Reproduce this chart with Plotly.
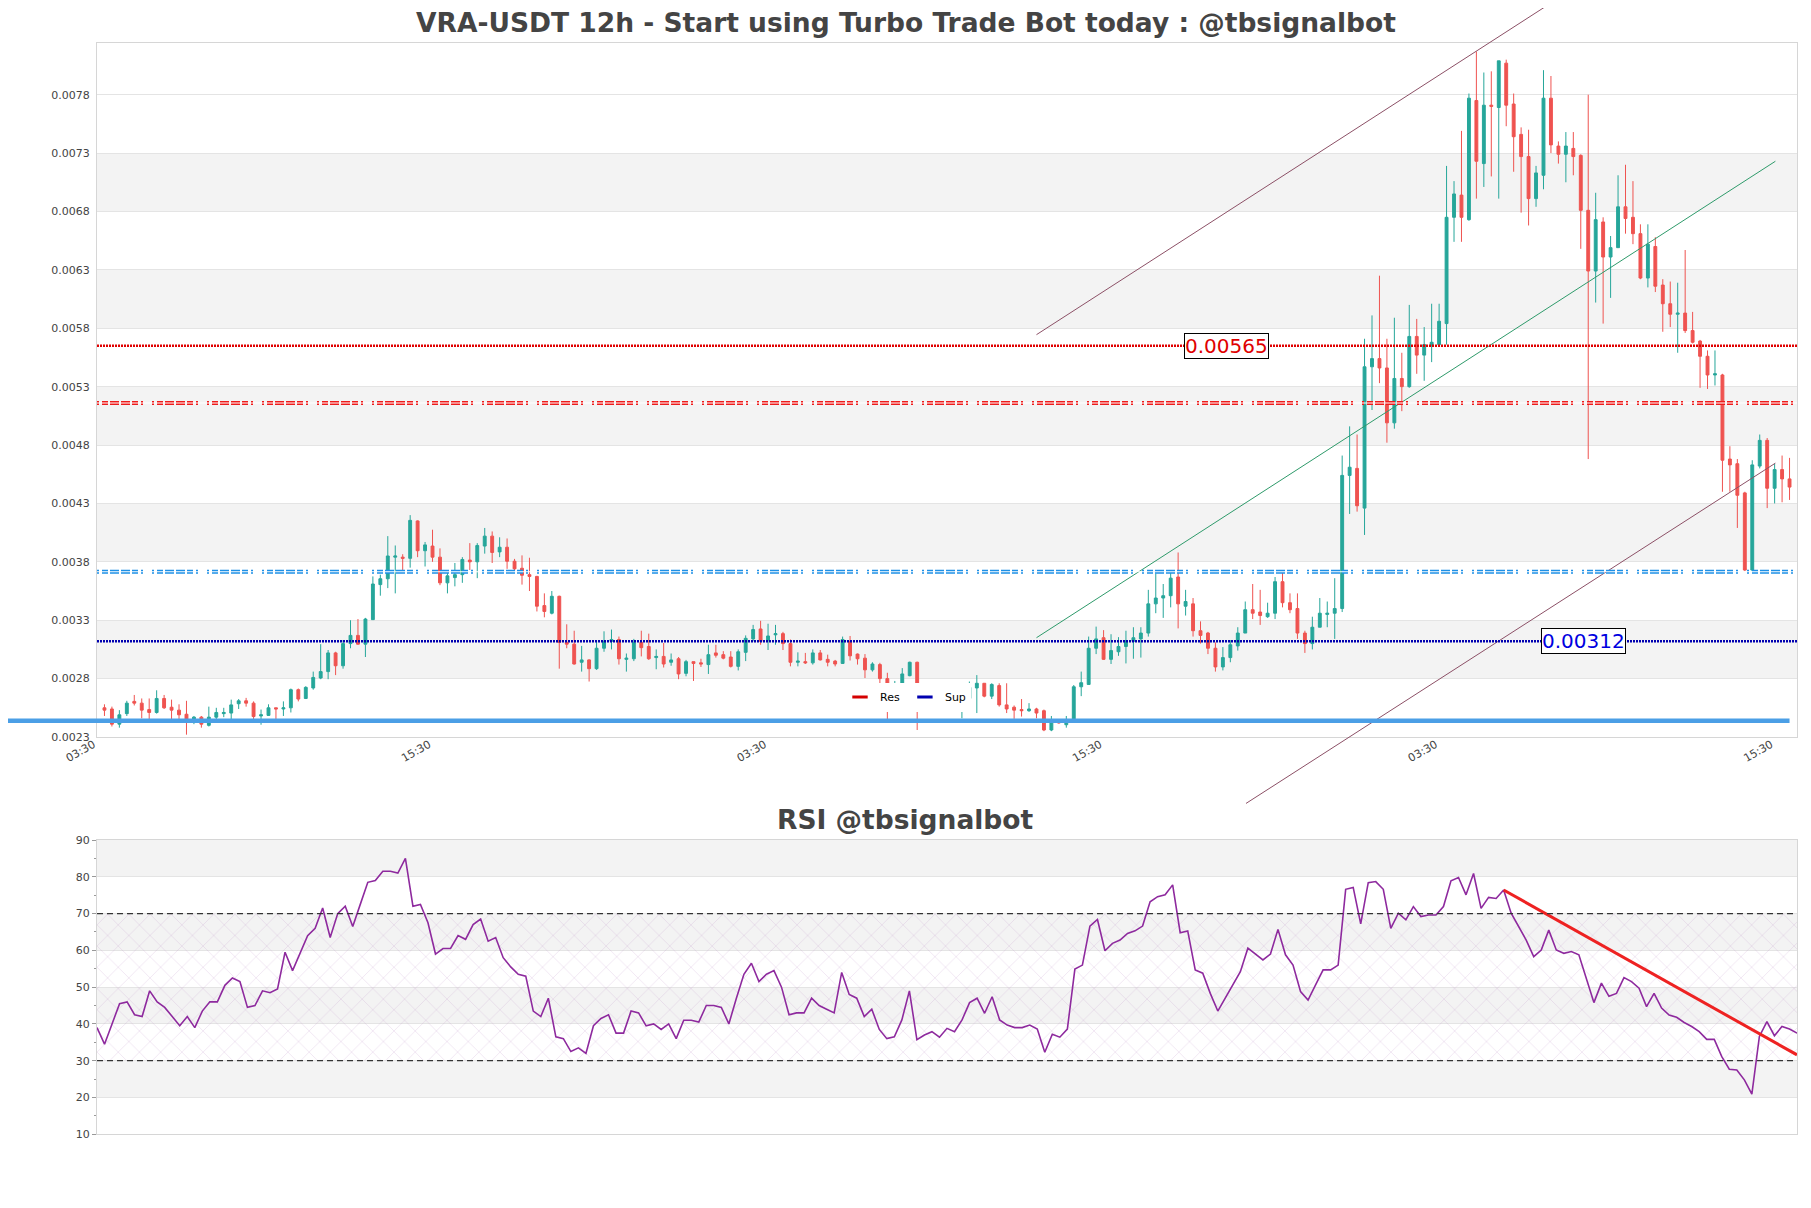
import plotly.graph_objects as go

W, H = 1811, 1208
PAGE = 8  # the html body margin that offsets the figure in the page

# ---- candles (price in units of 1e-4 USDT), 12h bars ----
open_ = [
    25.5, 25.4, 24.1, 25.0, 26.05, 25.9, 25.35, 25.1, 26.3, 25.55,
    25.3, 24.95, 24.3, 24.7, 24.0, 24.7, 25.0, 25.05, 25.85, 26.1,
    25.9, 24.8, 24.85, 25.5, 25.4, 25.5, 27.05, 26.3, 27.2, 28.05,
    28.6, 30.2, 29.1, 31.0, 31.7, 30.95, 33.05, 36.05, 36.55, 38.4,
    38.4, 38.3, 41.5, 38.95, 39.35, 38.4, 36.2, 36.65, 36.9, 38.15,
    38.0, 39.35, 40.2, 38.85, 39.25, 38.05, 37.45, 36.9, 36.75, 34.25,
    33.6, 35.05, 31.1, 30.95, 29.4, 29.6, 28.85, 30.6, 31.2, 31.35,
    29.65, 29.7, 31.1, 30.75, 29.8, 29.9, 29.4, 29.7, 28.45, 29.45,
    29.35, 29.2, 30.2, 30.05, 29.85, 29.05, 30.25, 31.4, 32.25, 31.3,
    31.75, 31.85, 31.0, 29.4, 29.45, 29.35, 30.2, 29.65, 29.5, 29.3,
    31.2, 30.1, 29.75, 28.75, 29.2, 28.0, 27.3, 27.0, 28.25, 29.4,
    25.9, 26.1, 26.0, 25.9, 26.0, 25.85, 26.3, 27.2, 27.6, 26.5,
    27.4, 25.75, 25.55, 25.35, 25.25, 25.4, 25.25, 23.6, 24.4, 24.05,
    24.4, 27.3, 27.5, 30.6, 31.5, 29.65, 30.3, 30.75, 31.2, 31.4,
    31.9, 34.4, 34.9, 35.1, 36.7, 34.2, 34.4, 32.1, 31.9, 30.6,
    29.0, 29.8, 30.8, 31.9, 33.9, 33.7, 33.3, 33.6, 36.3, 34.5,
    34.0, 31.9, 31.0, 32.4, 33.5, 33.6, 34.0, 45.4, 46.0, 42.6,
    54.7, 55.4, 54.6, 49.9, 53.7, 53.0, 57.3, 55.7, 56.5, 56.6,
    58.4, 67.5, 69.4, 67.3, 77.5, 72.1, 77.1, 76.9, 80.7, 77.2,
    74.6, 72.7, 69.1, 71.1, 77.7, 73.6, 72.9, 73.4, 72.8, 68.1,
    62.9, 67.1, 64.1, 64.9, 68.4, 67.5, 66.1, 62.3, 65.0, 61.7,
    60.1, 59.2, 59.3, 57.8, 56.9, 55.6, 54.0, 54.0, 46.8, 46.4,
    43.9, 37.3, 46.2, 48.4, 44.3, 45.9, 45.1,
]
high = [
    25.8, 25.6, 25.3, 26.1, 26.6, 26.3, 26.3, 27.0, 26.6, 26.2,
    25.8, 26.1, 24.8, 24.8, 25.6, 25.5, 25.5, 26.2, 26.25, 26.35,
    26.05, 25.35, 25.8, 25.5, 26.05, 27.15, 27.15, 27.35, 28.6, 30.95,
    30.45, 30.3, 31.3, 33.0, 33.1, 33.2, 36.75, 36.9, 40.2, 39.4,
    38.65, 42.0, 41.55, 39.7, 40.75, 39.15, 37.05, 37.9, 38.4, 39.6,
    39.6, 40.9, 40.6, 40.1, 40.0, 38.25, 38.55, 38.35, 36.8, 35.3,
    35.5, 35.1, 32.65, 32.1, 30.8, 29.65, 31.3, 32.05, 32.2, 31.6,
    30.15, 31.4, 32.1, 31.85, 30.5, 31.05, 30.15, 29.85, 29.6, 29.45,
    29.7, 30.9, 30.9, 30.35, 30.35, 30.5, 31.7, 32.6, 32.95, 32.7,
    32.6, 32.0, 31.35, 30.25, 30.2, 30.5, 30.45, 30.05, 29.6, 31.6,
    31.65, 30.15, 30.1, 29.4, 29.35, 28.5, 27.8, 28.9, 29.45, 29.45,
    26.4, 26.5, 26.3, 26.2, 26.4, 26.9, 27.75, 28.3, 27.6, 27.6,
    27.6, 27.6, 25.7, 26.25, 25.9, 25.5, 25.35, 24.8, 24.5, 24.8,
    27.45, 28.6, 31.6, 32.45, 32.15, 31.8, 31.55, 32.1, 32.4, 32.4,
    35.6, 37.0, 36.1, 37.1, 38.8, 35.6, 34.9, 32.9, 32.0, 31.1,
    30.7, 31.3, 32.4, 34.6, 36.1, 35.6, 34.5, 36.7, 37.2, 35.3,
    35.3, 32.1, 33.3, 34.9, 34.6, 36.6, 47.1, 49.6, 48.9, 57.1,
    59.1, 62.5, 57.1, 58.9, 55.9, 60.0, 58.8, 58.1, 60.1, 60.1,
    71.9, 70.6, 74.9, 78.1, 81.7, 79.9, 80.0, 80.9, 81.0, 78.1,
    75.2, 75.0, 71.9, 80.1, 79.6, 74.0, 74.8, 74.8, 72.9, 78.0,
    69.6, 67.5, 65.9, 71.1, 72.0, 70.6, 66.9, 66.9, 65.8, 62.2,
    62.0, 61.9, 64.7, 59.4, 57.0, 56.1, 56.1, 54.1, 47.9, 46.8,
    44.0, 46.7, 48.9, 48.6, 46.4, 47.1, 46.9,
]
low = [
    24.8, 23.9, 23.8, 24.8, 25.7, 24.6, 24.2, 25.0, 25.4, 24.5,
    24.5, 23.2, 24.1, 23.8, 23.9, 24.25, 24.7, 24.5, 25.4, 25.6,
    24.2, 24.05, 24.8, 24.4, 24.8, 25.1, 26.05, 26.25, 27.05, 27.95,
    27.95, 28.3, 28.85, 30.6, 30.9, 29.85, 33.05, 35.1, 35.75, 35.3,
    37.15, 37.5, 38.4, 37.6, 38.0, 36.0, 35.3, 35.9, 36.2, 37.3,
    36.6, 38.7, 37.9, 38.4, 37.4, 37.15, 36.05, 35.5, 33.75, 33.25,
    33.5, 28.85, 30.6, 29.2, 28.6, 27.75, 28.75, 30.3, 30.5, 29.2,
    28.6, 29.5, 29.9, 29.6, 28.8, 28.95, 29.1, 27.95, 28.2, 27.8,
    29.0, 28.4, 29.8, 29.65, 28.95, 28.7, 29.5, 31.2, 30.9, 30.45,
    30.9, 30.45, 29.05, 29.05, 29.25, 29.2, 29.55, 29.05, 29.05, 29.25,
    29.55, 29.2, 28.05, 28.6, 27.6, 24.4, 27.0, 26.8, 28.2, 23.6,
    25.3, 25.6, 25.6, 25.7, 25.5, 24.6, 25.75, 25.05, 26.4, 26.25,
    25.6, 25.05, 24.55, 24.75, 25.15, 24.6, 23.5, 23.5, 24.15, 23.8,
    24.35, 26.5, 27.5, 30.1, 29.6, 29.25, 29.95, 29.3, 29.7, 29.8,
    31.6, 33.6, 33.2, 34.1, 32.3, 33.4, 31.6, 31.0, 30.1, 28.6,
    28.7, 29.4, 30.4, 31.9, 33.1, 32.6, 33.2, 33.1, 34.1, 33.6,
    31.4, 30.2, 30.5, 32.4, 32.4, 31.4, 33.7, 42.1, 42.3, 40.3,
    51.0, 53.3, 48.2, 49.4, 50.9, 52.9, 54.1, 53.5, 55.1, 56.6,
    56.6, 65.4, 65.4, 67.2, 69.1, 70.1, 71.0, 69.1, 75.3, 71.4,
    67.9, 66.8, 68.4, 69.9, 73.0, 72.1, 70.5, 71.1, 64.8, 46.8,
    60.2, 58.4, 60.6, 64.9, 66.1, 65.2, 62.2, 61.5, 61.1, 57.7,
    58.1, 55.9, 57.6, 56.7, 52.9, 52.8, 53.1, 44.0, 44.0, 40.9,
    37.2, 37.2, 46.0, 42.6, 43.0, 43.1, 43.3,
]
close = [
    25.3, 24.1, 24.9, 25.9, 25.9, 25.3, 25.1, 26.3, 25.5, 25.3,
    24.9, 24.3, 24.7, 24.1, 24.7, 25.1, 25.1, 25.75, 26.1, 25.9,
    24.75, 24.9, 25.5, 25.4, 25.5, 27.05, 26.25, 27.25, 28.1, 28.6,
    30.2, 29.1, 31.0, 31.7, 30.95, 33.1, 36.1, 36.55, 38.5, 38.5,
    38.3, 41.55, 38.95, 39.45, 38.4, 36.2, 36.8, 36.9, 38.2, 38.0,
    39.4, 40.2, 38.8, 39.25, 38.05, 37.4, 36.85, 36.75, 34.2, 33.75,
    35.05, 31.1, 30.95, 29.25, 29.6, 28.85, 30.6, 31.2, 31.35, 29.7,
    29.75, 31.1, 30.65, 29.7, 29.9, 29.25, 29.6, 28.4, 29.45, 29.3,
    29.25, 30.05, 30.0, 29.75, 29.05, 30.3, 31.45, 32.2, 31.2, 31.65,
    31.85, 31.0, 29.4, 29.5, 29.35, 30.2, 29.6, 29.4, 29.25, 31.35,
    29.95, 29.7, 28.75, 29.25, 28.0, 27.3, 27.5, 28.4, 29.4, 26.2,
    26.1, 26.0, 25.9, 26.0, 25.8, 26.5, 27.25, 27.6, 26.5, 27.5,
    25.75, 25.4, 25.3, 25.25, 25.4, 25.05, 23.6, 24.4, 24.2, 24.5,
    27.3, 27.65, 30.6, 31.4, 29.65, 30.4, 30.75, 31.25, 31.5, 31.9,
    34.4, 34.9, 35.1, 36.6, 34.4, 34.6, 32.1, 31.7, 30.6, 29.0,
    29.8, 30.9, 31.9, 33.9, 33.6, 33.4, 33.6, 36.3, 34.5, 33.9,
    31.9, 31.0, 32.4, 33.6, 33.6, 34.0, 45.4, 46.1, 42.8, 54.7,
    55.4, 54.6, 49.9, 53.7, 53.0, 57.3, 55.7, 56.6, 56.8, 58.6,
    67.5, 69.5, 67.5, 77.7, 72.3, 77.1, 77.0, 80.9, 77.1, 74.4,
    72.7, 69.1, 71.3, 77.7, 73.7, 72.9, 73.6, 72.7, 68.1, 62.9,
    67.3, 64.1, 64.9, 68.4, 67.4, 66.1, 62.3, 65.2, 61.6, 60.1,
    59.2, 59.3, 57.8, 56.8, 55.6, 54.0, 54.1, 46.7, 46.3, 43.7,
    37.3, 46.3, 48.4, 44.3, 45.9, 45.1, 44.4,
]
PRICE_UNIT = 1e-4

# ---- RSI ----
rsi = [
    39, 34.5, 40, 45.5, 46, 42.5, 42, 49, 46, 44.5,
    42, 39.5, 42, 39, 43.5, 46, 46, 50.5, 52.5, 51.5,
    44.5, 45, 49, 48.5, 49.5, 59.5, 54.5, 59.5, 64, 66,
    71.5, 63.5, 70, 72, 66.5, 72.5, 78.5, 79, 81.5, 81.5,
    81, 85, 72, 72.5, 67.5, 59, 60.5, 60.5, 64, 63,
    67, 68.5, 62.5, 63.5, 58, 55.5, 53.5, 53, 43.5, 42,
    47, 36.5, 36, 32.5, 33.5, 32, 39.5, 41.5, 42.5, 37.5,
    37.5, 43.5, 43, 39.5, 40, 38.5, 40, 36, 41, 41,
    40.5, 45, 45, 44.5, 40, 47, 53.5, 56.5, 51.5, 53.5,
    54.5, 50, 42.5, 43, 43, 47, 45, 44, 43, 54,
    48, 47, 42, 44, 38.5, 36, 36.5,
    41.1, 49.0, 35.7, 37.0, 37.9, 36.4, 38.8, 37.9, 41.1, 45.8,
    47.0, 42.9, 47.4, 41.1, 39.7, 39.0, 39.0, 39.7, 38.6, 32.3,
    37.2, 36.4, 38.6, 54.9, 56.0, 66.6, 68.4, 59.9, 61.9, 62.8,
    64.6, 65.3, 66.6, 73.2, 74.6, 75.1, 77.8, 64.8, 65.3, 54.7,
    53.8, 48.3, 43.5, 47.0, 50.6, 54.2, 60.6, 59.0, 57.4, 59.0,
    65.7, 58.8, 56.0, 48.8, 46.5, 50.6, 54.7, 54.7, 56.0, 76.6,
    77.1, 67.2, 78.4, 78.7, 76.6, 66.0, 70.1, 68.3, 71.9, 69.2,
    69.6, 69.6, 71.9, 78.9, 79.8, 75.1, 80.9, 71.4, 74.4, 74.1,
    76.4, 70.1, 66.4, 62.8, 58.3, 60.1, 65.5, 60.1, 59.2, 59.7,
    58.8, 52.0, 45.8, 51.1, 47.5, 48.3, 52.6, 51.5, 49.7, 44.7,
    48.3, 44.3, 42.4, 41.8, 40.4, 39.3, 37.9, 35.8, 35.8, 31.1,
    27.7, 27.5, 24.8, 20.9, 36.6, 40.6, 36.8, 39.3, 38.6, 37.5,
]

# x tick labels (every 45 bars)
tick_idx = [0, 45, 90, 135, 180, 225]
tick_text = ["03:30", "15:30", "03:30", "15:30", "03:30", "15:30"]

# support / resistance levels
res_level = 0.00565
sup_level = 0.00312
res_zone = 0.00516
sup_zone = 0.003715
base_level = 0.00244
base_span = [-13, 226]
res_label_at = 150.5
sup_label_at = 198.4

# channel lines: (x0, y0, x1, y1)
channel_upper = (125.0, 0.005745, 193.4, 0.00856)
channel_mid = (125.0, 0.00315, 224.1, 0.00723)
channel_lower = (153.1, 0.001731, 224.1, 0.004645)
rsi_trend = (187, 76.4, 226, 31.6)

price_bands = [0.0028, 0.0038, 0.0048, 0.0058, 0.0068]
rsi_bands = [20, 40, 60, 80]

GREEN = "#26a69a"
RED = "#ef5350"
FONT = "DejaVu Sans"
TXT = "#444444"
GRID = "#e4e4e4"
BORDER = "#d6d6d6"

n = len(close)
idx = list(range(n))


def px_x(p):
    return (p - PAGE) / W


def px_y(p):
    return 1 - (p - PAGE) / H


# layout geometry (screen pixels) -> domains
x_dom = [px_x(97), px_x(1797)]
y_main = [px_y(737), px_y(43.3)]
y_rsi = [px_y(1134.3), px_y(840)]
x_range = [-1, 227]
y_range = [0.0023, 0.00824]


def full_range(rng, dom):
    span = (rng[1] - rng[0]) / (dom[1] - dom[0])
    return [rng[0] - dom[0] * span, rng[1] + (1 - dom[1]) * span]


fig = go.Figure()

fig.add_trace(go.Candlestick(
    x=idx,
    open=[v * PRICE_UNIT for v in open_],
    high=[v * PRICE_UNIT for v in high],
    low=[v * PRICE_UNIT for v in low],
    close=[v * PRICE_UNIT for v in close],
    increasing=dict(line=dict(color=GREEN, width=1), fillcolor=GREEN),
    decreasing=dict(line=dict(color=RED, width=1), fillcolor=RED),
    whiskerwidth=0, showlegend=False, xaxis="x", yaxis="y",
))

# legend entries
fig.add_trace(go.Scatter(
    x=[None], y=[None], mode="markers", name="Res",
    marker=dict(symbol="line-ew", size=11, line=dict(width=3, color="#d40000")),
))
fig.add_trace(go.Scatter(
    x=[None], y=[None], mode="markers", name="Sup",
    marker=dict(symbol="line-ew", size=11, line=dict(width=3, color="#0000b0")),
))

# RSI hatched zone + line
fig.add_trace(go.Scatter(
    x=[0, n - 1, n - 1, 0, 0], y=[30, 30, 70, 70, 30],
    fill="toself", fillcolor="rgba(0,0,0,0)", mode="lines", line=dict(width=0),
    fillpattern=dict(shape="x", fgcolor="rgba(175,120,190,0.55)", size=15, solidity=0.08),
    xaxis="x2", yaxis="y2", showlegend=False, hoverinfo="skip",
))
fig.add_trace(go.Scatter(
    x=idx, y=rsi, mode="lines", line=dict(color="#8e2a9e", width=1.6),
    xaxis="x2", yaxis="y2", showlegend=False,
))
fig.add_trace(go.Scatter(
    x=[rsi_trend[0], rsi_trend[2]], y=[rsi_trend[1], rsi_trend[3]],
    mode="lines", line=dict(color="#ee2222", width=3),
    xaxis="x2", yaxis="y2", showlegend=False,
))

# lines that run past the plot frame live on a full-figure overlay axis
for (x0, y0, x1, y1), col in [(channel_upper, "#8c5066"),
                              (channel_lower, "#8c5066"),
                              (channel_mid, "#2e9a6a")]:
    fig.add_trace(go.Scatter(
        x=[x0, x1], y=[y0, y1], mode="lines", line=dict(color=col, width=1),
        xaxis="x3", yaxis="y3", showlegend=False,
    ))
fig.add_trace(go.Scatter(
    x=base_span, y=[base_level, base_level], mode="lines",
    line=dict(color="#4b9fe6", width=4.5),
    xaxis="x3", yaxis="y3", showlegend=False,
))

shapes = []
for b in price_bands:
    shapes.append(dict(type="rect", xref="x domain", yref="y", x0=0, x1=1,
                       y0=b, y1=b + 0.0005, fillcolor="#f3f3f3",
                       line=dict(width=0), layer="below"))
for b in rsi_bands:
    shapes.append(dict(type="rect", xref="x2 domain", yref="y2", x0=0, x1=1,
                       y0=b, y1=b + 10, fillcolor="#f3f3f3",
                       line=dict(width=0), layer="below"))
for lvl in (30, 70):
    shapes.append(dict(type="line", xref="x2 domain", yref="y2", x0=0, x1=1,
                       y0=lvl, y1=lvl, line=dict(color="#333333", width=1.2, dash="6px,4px")))

zone_dash = "2px,3px,6px,2px,9px,2px,9px,2px,6px,3px,2px,9px"
for lvl, col in [(res_zone, "#ee1c1c"), (sup_zone, "#1e90e6")]:
    shapes.append(dict(type="line", xref="x domain", yref="y", x0=0, x1=1,
                       y0=lvl, y1=lvl, line=dict(color=col, width=4, dash=zone_dash)))
    shapes.append(dict(type="line", xref="x domain", yref="y", x0=0, x1=1,
                       y0=lvl, y1=lvl, line=dict(color="white", width=1.2)))
for lvl, col in [(res_level, "#e00000"), (sup_level, "#0000b0")]:
    shapes.append(dict(type="line", xref="x domain", yref="y", x0=0, x1=1,
                       y0=lvl, y1=lvl, line=dict(color=col, width=2.5, dash="2px,1px")))

annotations = [
    dict(text="<b>VRA-USDT 12h - Start using Turbo Trade Bot today : @tbsignalbot</b>",
         x=px_x(905.5), y=px_y(22.7), xref="paper", yref="paper", showarrow=False,
         yanchor="middle", font=dict(family=FONT, size=26.5, color=TXT)),
    dict(text="<b>RSI @tbsignalbot</b>",
         x=px_x(905.5), y=px_y(819), xref="paper", yref="paper", showarrow=False,
         yanchor="middle", font=dict(family=FONT, size=26.5, color=TXT)),
    dict(text="0.00565", x=res_label_at, y=res_level, xref="x", yref="y",
         showarrow=False, font=dict(family=FONT, size=20, color="#e00000"),
         bgcolor="white", bordercolor="black", borderwidth=1, borderpad=0),
    dict(text="0.00312", x=sup_label_at, y=sup_level, xref="x", yref="y",
         showarrow=False, font=dict(family=FONT, size=20, color="#0000e0"),
         bgcolor="white", bordercolor="black", borderwidth=1, borderpad=0),
]

tickfont = dict(family=FONT, size=11, color=TXT)

fig.update_layout(
    width=W, height=H, autosize=False,
    margin=dict(l=0, r=0, t=0, b=0, pad=0),
    paper_bgcolor="white", plot_bgcolor="rgba(0,0,0,0)",
    boxgap=0.45,
    shapes=shapes, annotations=annotations,
    legend=dict(orientation="h", x=px_x(840), y=px_y(697), xanchor="left",
                yanchor="middle", bgcolor="white", font=dict(family=FONT, size=11, color="black")),
    xaxis=dict(domain=x_dom, range=x_range, anchor="y", type="linear", automargin=False,
               tickmode="array", tickvals=tick_idx, ticktext=tick_text, tickangle=-30,
               ticklabelshift=-11, ticklabelstandoff=-4,
               tickfont=tickfont, showgrid=False, zeroline=False,
               showline=True, mirror=True, linecolor=BORDER,
               rangeslider=dict(visible=False)),
    yaxis=dict(domain=y_main, range=y_range, anchor="x", automargin=False,
               tick0=0.0023, dtick=0.0005, tickformat=".4f", tickfont=tickfont,
               ticklabelstandoff=4,
               showgrid=True, gridcolor=GRID, zeroline=False,
               showline=True, mirror=True, linecolor=BORDER),
    xaxis2=dict(domain=x_dom, range=[0, n - 1], anchor="y2", showticklabels=False,
                automargin=False, showgrid=False, zeroline=False,
                showline=True, mirror=True, linecolor=BORDER),
    yaxis2=dict(domain=y_rsi, range=[10, 90], anchor="x2", tick0=10, dtick=10,
                automargin=False, tickfont=tickfont, ticks="outside", ticklen=4,
                tickcolor="#999999",
                minor=dict(ticks="outside", ticklen=2, dtick=5, tickcolor="#999999"),
                showgrid=True, gridcolor=GRID, zeroline=False,
                showline=True, mirror=True, linecolor=BORDER),
    xaxis3=dict(domain=[0, 1], range=full_range(x_range, x_dom), anchor="y3",
                visible=False, automargin=False),
    yaxis3=dict(domain=[0, 1], range=full_range(y_range, y_main), anchor="x3",
                visible=False, automargin=False),
)

fig.write_html("out.html")
